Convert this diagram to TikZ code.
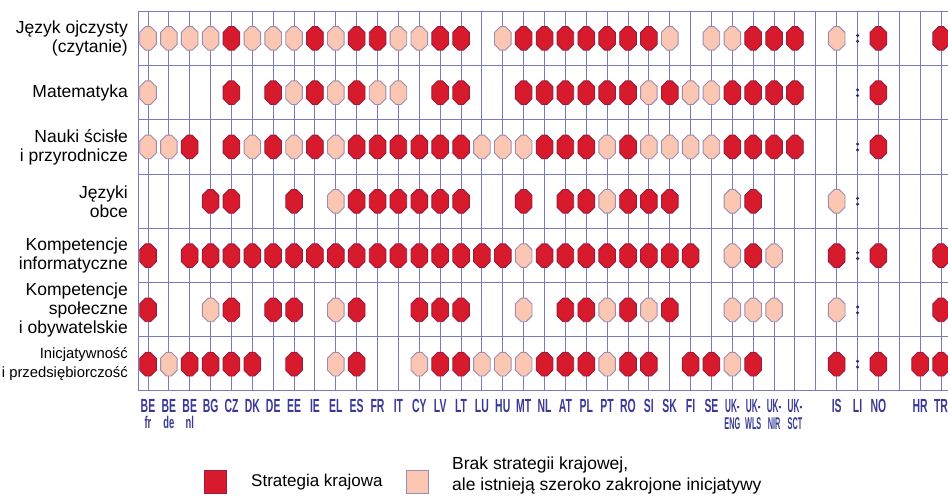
\documentclass[tikz,border=0pt]{standalone}
\usepackage{fontspec}
\setmainfont{Liberation Sans}
\newfontfamily\cfont[FakeStretch=0.55]{Liberation Sans}
\newfontfamily\ukfont[FakeStretch=0.43]{Liberation Sans}
\definecolor{gridc}{HTML}{7A7AC0}
\definecolor{darkf}{HTML}{D71A2C}
\definecolor{darkb}{HTML}{9A1B3C}
\definecolor{lightf}{HTML}{FBC6B2}
\definecolor{lightb}{HTML}{9C8CB0}
\definecolor{labc}{HTML}{3A3A96}
\definecolor{dotc}{HTML}{2A2A78}
\tikzset{
  hexa/.pic={\path[pic actions] (-2.5,-11.8) -- (2.5,-11.8) -- (8.3,-6) -- (8.3,6) -- (2.5,11.8) -- (-2.5,11.8) -- (-8.3,6) -- (-8.3,-6) -- cycle;},
  darkhex/.style={fill=darkf, draw=darkb, line width=0.9pt},
  lighthex/.style={fill=lightf, draw=lightb, line width=0.9pt},
  gridline/.style={draw=gridc, line width=1pt},
  rowlab/.style={anchor=east, align=right, inner sep=0pt, font=\fontsize{17.5}{19}\selectfont},
  rowlabsm/.style={anchor=east, align=right, inner sep=0pt, font=\fontsize{14.8}{19}\selectfont},
  cty/.style={anchor=base, inner sep=0pt, text=labc, font=\cfont\bfseries\fontsize{19}{19}\selectfont},
  ctysub/.style={anchor=base, inner sep=0pt, text=labc, font=\cfont\bfseries\fontsize{17}{17}\selectfont},
  ukl/.style={anchor=base, inner sep=0pt, text=labc, font=\ukfont\bfseries\fontsize{19}{19}\selectfont},
  uksub/.style={anchor=base, inner sep=0pt, text=labc, font=\ukfont\bfseries\fontsize{17}{17}\selectfont},
  legsq/.style={draw=lightb, line width=0.9pt, minimum width=22pt, minimum height=23pt, inner sep=0pt},
  legtext/.style={anchor=west, align=left, inner sep=0pt, font=\fontsize{17}{21}\selectfont},
  legtextb/.style={anchor=west, align=left, inner sep=0pt, font=\fontsize{17.5}{21}\selectfont},
  lidot/.style={fill=dotc, draw=none}
}
\begin{document}
\begin{tikzpicture}[x=1pt,y=-1pt]
\useasboundingbox (0,0) rectangle (948,500);
% grid
\foreach \i in {0,...,38} {
  \pgfmathsetmacro\xx{148+20.87*\i}
  \draw[gridline] (\xx,11.5) -- (\xx,390.9);
}
\foreach \r in {0,...,7} {
  \pgfmathsetmacro\yy{11.5+54.2*\r}
  \draw[gridline] (138.3,\yy) -- (948,\yy);
}
\draw[gridline] (138.3,11.5) -- (138.3,390.9);
% hexagons
\foreach \row [count=\r from 0] in {
 {L,L,L,L,D,L,L,L,D,L,D,D,L,L,D,D,0,L,D,D,D,D,D,D,D,L,0,L,L,D,D,D,0,L,0,D,0,0,D},
 {L,0,0,0,D,0,D,L,D,L,D,L,L,0,D,D,0,0,D,D,D,D,D,D,L,D,L,L,D,D,D,D,0,0,0,D,0,0,0},
 {L,L,D,0,D,L,D,L,D,L,D,D,D,D,D,D,L,L,L,D,D,D,L,D,L,L,L,L,D,D,D,D,0,0,0,D,0,0,0},
 {0,0,0,D,D,0,0,D,0,L,D,D,D,D,D,D,0,0,D,0,D,D,L,D,D,D,0,0,L,D,0,0,0,L,0,0,0,0,0},
 {D,0,D,D,D,D,D,D,D,D,D,D,D,D,D,D,D,D,L,D,D,D,D,D,D,D,D,0,L,D,L,0,0,D,0,D,0,0,D},
 {D,0,0,L,D,0,D,D,0,L,D,0,0,D,D,D,0,0,L,0,D,D,L,D,L,D,0,0,L,L,L,0,0,L,0,0,0,0,D},
 {D,L,D,D,D,D,0,D,0,L,D,0,0,L,D,D,L,L,L,D,D,D,L,D,D,0,D,D,L,D,0,0,0,D,0,D,0,D,D}} {
  \pgfmathsetmacro\yy{38.4+54.3*\r}
  \foreach \v [count=\i from 0] in \row {
    \pgfmathsetmacro\xx{148+20.87*\i}
    \if\v D\pic[darkhex] at (\xx,\yy) {hexa};\fi
    \if\v L\pic[lighthex] at (\xx,\yy) {hexa};\fi
  }
  \pgfmathsetmacro\xl{148+20.87*34}
  \fill[lidot] (\xl,\yy-2.9) circle (1.7);
  \fill[lidot] (\xl,\yy+2.9) circle (1.7);
}
% row labels
\node[rowlab] (r1) at (128,38.4) {Język ojczysty\\(czytanie)};
\node[rowlab] (r2) at (128,92.7) {Matematyka};
\node[rowlab] (r3) at (128,147) {Nauki ścisłe\\i przyrodnicze};
\node[rowlab] (r4) at (128,201.3) {Języki\\obce};
\node[rowlab] (r5) at (128,255.6) {Kompetencje\\informatyczne};
\node[rowlab] (r6) at (128,309.9) {Kompetencje\\społeczne\\i obywatelskie};
\node[rowlabsm] (r7) at (128,364.2) {Inicjatywność\\i przedsiębiorczość};
% country labels
\foreach \lab [count=\i from 0] in {BE,BE,BE,BG,CZ,DK,DE,EE,IE,EL,ES,FR,IT,CY,LV,LT,LU,HU,MT,NL,AT,PL,PT,RO,SI,SK,FI,SE} {
  \pgfmathsetmacro\xx{148+20.87*\i}
  \node[cty] (c\i) at (\xx,412) {\lab};
}
\foreach \lab/\i in {fr/0,de/1,nl/2} {
  \pgfmathsetmacro\xx{148+20.87*\i}
  \node[ctysub] (s\i) at (\xx,428) {\lab};
}
\foreach \lab/\i in {ENG/28,WLS/29,NIR/30,SCT/31} {
  \pgfmathsetmacro\xx{148+20.87*\i}
  \node[ukl] (c\i) at (\xx,412) {UK-};
  \node[uksub] (s\i) at (\xx,429) {\lab};
}
\foreach \lab/\i in {IS/33,LI/34,NO/35,HR/37,TR/38} {
  \pgfmathsetmacro\xx{148+20.87*\i}
  \node[cty] (c\i) at (\xx,412) {\lab};
}
% legend
\node[legsq, fill=darkf, draw=darkb] (lg1) at (215,481.5) {};
\node[legtext] (lt1) at (251,482) {Strategia krajowa};
\node[legsq, fill=lightf] (lg2) at (417,481.5) {};
\node[legtextb] (lt2) at (452,475) {Brak strategii krajowej,\\ale istnieją szeroko zakrojone inicjatywy};
\end{tikzpicture}
\end{document}
